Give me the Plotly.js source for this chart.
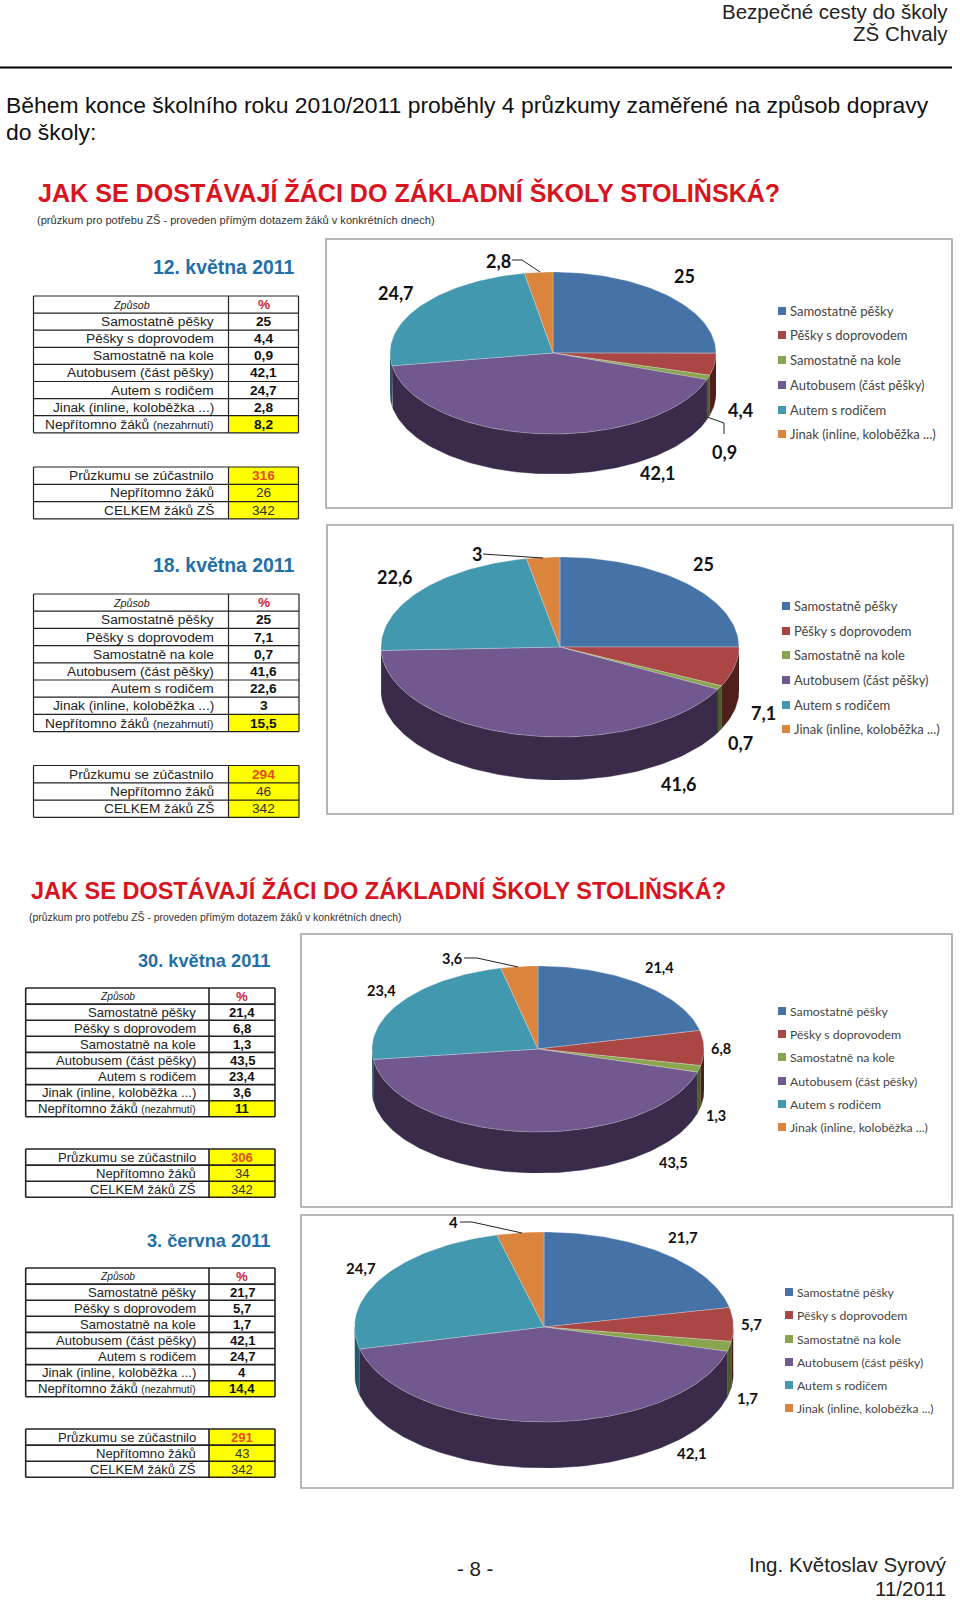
<!DOCTYPE html>
<html><head><meta charset="utf-8">
<script src="https://cdn.plot.ly/plotly-3.0.1.min.js"></script>
<style>html,body{margin:0;padding:0;background:#fff}#c{width:960px;height:1600px}</style>
</head><body><div id="c"></div>
<script>
// ---- data ----
const methods = ["Samostatně pěšky","Pěšky s doprovodem","Samostatně na kole","Autobusem (část pěšky)","Autem s rodičem","Jinak (inline, koloběžka ...)"];
const surveyDates = ["12. května 2011","18. května 2011","30. května 2011","3. června 2011"];
const pctMay12 = [25,4.4,0.9,42.1,24.7,2.8];
const pctMay18 = [25,7.1,0.7,41.6,22.6,3];
const pctMay30 = [21.4,6.8,1.3,43.5,23.4,3.6];
const pctJun3  = [21.7,5.7,1.7,42.1,24.7,4];
const absentPct = [8.2,15.5,11,14.4];
const participated = [316,294,306,291];
const absent = [26,46,34,43];
const totals = [342,342,342,342];
const summaryLabels = ["Průzkumu se zúčastnilo","Nepřítomno žáků","CELKEM žáků ZŠ"];
const allPct = [pctMay12,pctMay18,pctMay30,pctJun3];
const comma = v => String(v).replace('.',',');

// ---- styling / layout ----
const TOP = ['#4573a7','#aa4643','#89a54e','#71588f','#4298af','#db843d'];
const SIDE = ['#2a4566','#4f1f1c','#4d5c2b','#3a2b4a','#235a6b','#8a4f20'];
const SANS = 'Liberation Sans, Arial, sans-serif', LATO = 'Lato, sans-serif';
const pies = [
 {cx:553,cy:353,rx:163,ry:81,d:40,frame:[326,239,952,508],lab:13,num:18,legM:782,legT:789,legY:[311,335,360,385,410,434],
  pos:[[684,276],[740,410],[724,452],[658,473],[396,293],[498,261]],lead:[[512,260],[522,260],[540,272]],lead2:[[707,417],[724,423],[724,434]]},
 {cx:560,cy:647,rx:179,ry:90,d:43,frame:[327,525,953,814],lab:13,num:18,legM:786,legT:793,legY:[606,631,655,680,705,729],
  pos:[[703,564],[763,713],[740,743],[679,784],[395,577],[477,554]],lead:[[483,554],[543,558]]},
 {cx:538,cy:1049,rx:166,ry:83,d:41,frame:[301,934,952,1207],lab:12.3,num:14.5,legM:782,legT:789,legY:[1011,1034,1057,1081,1104,1127],
  pos:[[659,967],[721,1048],[716,1115],[673,1162],[381,990],[452,958]],lead:[[464,958],[477,958],[518,967]]},
 {cx:544,cy:1327,rx:189.5,ry:95,d:46,frame:[301,1215,953,1488],lab:12.2,num:15,legM:789,legT:796,legY:[1292,1315,1339,1362,1385,1408],
  pos:[[683,1237],[751,1324],[747,1398],[692,1453],[361,1268],[453,1222]],lead:[[460,1222],[472,1222],[522,1233]]}
];
const tables = [
 {l:33.5,m:228.5,r:298.5,t:296,rh:17.1,t2:467,rh2:17.3,fs:13.7,tr:295,ty:267,pad:13.5,lw:1.2,small:0.82},
 {l:33.5,m:228.5,r:299,t:594,rh:17.2,t2:765.5,rh2:17.3,fs:13.7,tr:295,ty:565,pad:13.5,lw:1.2,small:0.82},
 {l:25.7,m:209,r:275,t:988,rh:16.1,t2:1149,rh2:16.1,fs:13.1,tr:271,ty:961,pad:12.5,lw:1.6,small:0.77},
 {l:25.7,m:209,r:275,t:1268,rh:16.1,t2:1429,rh2:16.1,fs:13.1,tr:271,ty:1241,pad:12.5,lw:1.6,small:0.77}
];

const traces = [], shapes = [], annotations = [];
const layout = {width:960,height:1600,margin:{l:0,r:0,t:0,b:0},paper_bgcolor:'#fff',plot_bgcolor:'rgba(0,0,0,0)',showlegend:false,hovermode:false,
  xaxis:{range:[0,960],domain:[0,1],visible:false,fixedrange:true},
  yaxis:{range:[1600,0],domain:[0,1],visible:false,fixedrange:true}};

function txt(x,y,text,size,opt){ opt=opt||{};
  annotations.push({xref:'x',yref:'y',x:x,y:y,text:text,showarrow:false,xanchor:opt.a||'center',yanchor:'middle',align:opt.a||'center',
    font:{family:opt.f||SANS,size:size,color:opt.c||'#000'},borderpad:0});
}
function rect(x0,y0,x1,y1,line,w,fill,layer){
  shapes.push({type:'rect',xref:'x',yref:'y',x0,y0,x1,y1,line:{color:line,width:w},fillcolor:fill||'rgba(0,0,0,0)',layer:layer||'below'});
}
function arc(a,b){ const pts=[],n=Math.max(2,Math.ceil(Math.abs(b-a)/1.5)); for(let i=0;i<=n;i++){pts.push((a+(b-a)*i/n)*Math.PI/180);} return pts; }

pies.forEach((p,i)=>{
  const n=i+2, vals=allPct[i], D=p.d/p.ry, xa='x'+n, ya='y'+n;
  layout['xaxis'+n]={range:[-1,1],domain:[(p.cx-p.rx)/960,(p.cx+p.rx)/960],anchor:ya,visible:false,fixedrange:true};
  layout['yaxis'+n]={range:[1+D,-1],domain:[1-(p.cy+p.ry+p.d)/1600,1-(p.cy-p.ry)/1600],anchor:xa,visible:false,fixedrange:true};
  rect(p.frame[0],p.frame[1],p.frame[2],p.frame[3],'#a3a3a3',1.6,'#fff');
  const total=vals.reduce((a,b)=>a+b,0); let c=0; const sides=[],tops=[];
  vals.forEach((v,k)=>{
    const a0=c/total*360, a1=(c+v)/total*360; c+=v;
    const sa=Math.max(a0,90), sb=Math.min(a1,270);
    if(sb>sa){ const t=arc(sa,sb), back=t.slice().reverse();
      sides.push({x:t.map(Math.sin).concat(back.map(Math.sin)),y:t.map(q=>-Math.cos(q)).concat(back.map(q=>-Math.cos(q)+D)),
        mode:'lines',fill:'toself',fillcolor:SIDE[k],line:{width:0.4,color:SIDE[k]},xaxis:xa,yaxis:ya,cliponaxis:false,hoverinfo:'skip'});
    }
    const t=arc(a0,a1);
    tops.push({x:[0].concat(t.map(Math.sin),[0]),y:[0].concat(t.map(q=>-Math.cos(q)),[0]),name:methods[k],
      mode:'lines',fill:'toself',fillcolor:TOP[k],line:{width:0.6,color:'rgba(225,225,225,0.55)'},xaxis:xa,yaxis:ya,cliponaxis:false,hoverinfo:'skip'});
    txt(p.pos[k][0],p.pos[k][1],'<b>'+comma(v)+'</b>',p.num,{f:LATO,c:'#111'});
    txt(p.legT,p.legY[k],methods[k],p.lab,{f:LATO,a:'left',c:'#444'});
  });
  traces.push(...sides,...tops);
  traces.push({x:p.legY.map(()=>p.legM),y:p.legY,mode:'markers',marker:{symbol:'square',size:8,color:TOP},hoverinfo:'skip'});
  [p.lead,p.lead2].forEach(L=>{ if(L) shapes.push({type:'path',xref:'x',yref:'y',path:L.map((q,j)=>(j?'L':'M')+q[0]+' '+q[1]).join(' '),line:{color:'#222',width:1},layer:'above'}); });
});

tables.forEach((T,i)=>{
  txt(T.tr,T.ty,'<b>'+surveyDates[i]+'</b>',i<2?19.4:18.2,{a:'right',c:'#1f6fa8'});
  const pad=T.pad, cm=(T.m+T.r)/2, cl=(T.l+T.m)/2;
  const row=(j,t,h)=>t+h*(j+0.5);
  rect(T.m,T.t+7*T.rh,T.r,T.t+8*T.rh,'rgba(0,0,0,0)',0,'#ffff00');
  rect(T.m,T.t2,T.r,T.t2+3*T.rh2,'rgba(0,0,0,0)',0,'#ffff00');
  const ln={color:'#222',width:T.lw};
  for(let j=0;j<=8;j++) shapes.push({type:'line',xref:'x',yref:'y',x0:T.l,x1:T.r,y0:T.t+j*T.rh,y1:T.t+j*T.rh,line:ln,layer:'below'});
  for(let j=0;j<=3;j++) shapes.push({type:'line',xref:'x',yref:'y',x0:T.l,x1:T.r,y0:T.t2+j*T.rh2,y1:T.t2+j*T.rh2,line:ln,layer:'below'});
  [T.l,T.m,T.r].forEach(x=>{
    shapes.push({type:'line',xref:'x',yref:'y',x0:x,x1:x,y0:T.t,y1:T.t+8*T.rh,line:ln,layer:'below'});
    shapes.push({type:'line',xref:'x',yref:'y',x0:x,x1:x,y0:T.t2,y1:T.t2+3*T.rh2,line:ln,layer:'below'});
  });
  txt(cl,row(0,T.t,T.rh),'<i>Způsob</i>',T.fs*0.78,{c:'#222'});
  txt(cm,row(0,T.t,T.rh),'<b>%</b>',T.fs,{c:'#d0243c'});
  allPct[i].forEach((v,k)=>{
    txt(T.m-pad,row(k+1,T.t,T.rh),methods[k],T.fs,{a:'right',c:'#222'});
    txt(cm,row(k+1,T.t,T.rh),'<b>'+comma(v)+'</b>',T.fs,{c:'#111'});
  });
  txt(T.m-pad,row(7,T.t,T.rh),'Nepřítomno žáků <span style="font-size:'+(T.fs*T.small)+'px">(nezahrnutí)</span>',T.fs,{a:'right',c:'#222'});
  txt(cm,row(7,T.t,T.rh),'<b>'+comma(absentPct[i])+'</b>',T.fs,{c:'#111'});
  const sum=[participated[i],absent[i],totals[i]];
  sum.forEach((v,k)=>{
    txt(T.m-pad,row(k,T.t2,T.rh2),summaryLabels[k],T.fs,{a:'right',c:'#222'});
    txt(cm,row(k,T.t2,T.rh2),k===0?'<b>'+v+'</b>':String(v),T.fs,{c:k===0?'#e2501a':'#333'});
  });
});

// ---- page text ----
txt(949,11.5,'Bezpečné cesty do školy',20.5,{a:'right',c:'#222'});
txt(949,33,'ZŠ Chvaly',20.5,{a:'right',c:'#222'});
shapes.push({type:'line',xref:'x',yref:'y',x0:0,x1:952,y0:67.5,y1:67.5,line:{color:'#000',width:2},layer:'below'});
txt(5,105,'Během konce školního roku 2010/2011 proběhly 4 průzkumy zaměřené na způsob dopravy',22.9,{a:'left',c:'#111'});
txt(5,132,'do školy:',22.9,{a:'left',c:'#111'});
txt(37,192,'<b>JAK SE DOSTÁVAJÍ ŽÁCI DO ZÁKLADNÍ ŠKOLY STOLIŇSKÁ?</b>',25.1,{a:'left',c:'#d8141e'});
txt(36,220,'(průzkum pro potřebu ZŠ - proveden přímým dotazem žáků v konkrétních dnech)',11.1,{a:'left',c:'#333'});
txt(30,890,'<b>JAK SE DOSTÁVAJÍ ŽÁCI DO ZÁKLADNÍ ŠKOLY STOLIŇSKÁ?</b>',23.5,{a:'left',c:'#d8141e'});
txt(28,917,'(průzkum pro potřebu ZŠ - proveden přímým dotazem žáků v konkrétních dnech)',10.4,{a:'left',c:'#333'});
txt(475,1568,'- 8 -',20.5,{c:'#222'});
txt(948,1564.5,'Ing. Květoslav Syrový',20.5,{a:'right',c:'#222'});
txt(947,1588,'11/2011',20.5,{a:'right',c:'#222'});

layout.shapes=shapes; layout.annotations=annotations;
Plotly.newPlot('c',traces,layout,{staticPlot:true,displayModeBar:false});
</script></body></html>
